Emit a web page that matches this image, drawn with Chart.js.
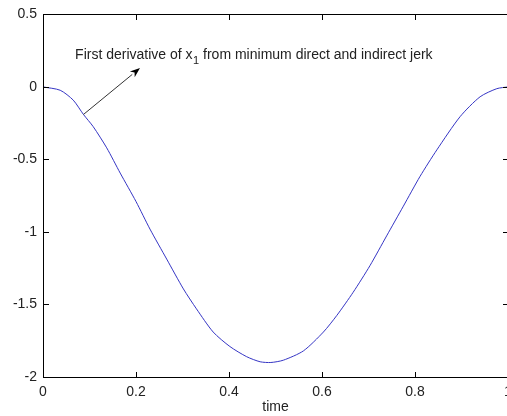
<!DOCTYPE html>
<html>
<head>
<meta charset="utf-8">
<script src="https://cdn.jsdelivr.net/npm/chart.js@4.4.1/dist/chart.umd.min.js"></script>
<style>
  html, body { margin: 0; padding: 0; background: #fff; overflow: hidden; }
  #wrap { width: 520px; height: 416px; position: relative; }
</style>
</head>
<body>
<div id="wrap"><canvas id="c" width="520" height="416"></canvas></div>
<script>
// Data
const timeValues = [0, 0.037, 0.065, 0.087, 0.108, 0.137, 0.166, 0.2, 0.23, 0.266, 0.302, 0.33, 0.366, 0.402, 0.438, 0.467, 0.49, 0.517, 0.56, 0.603, 0.632, 0.667, 0.703, 0.739, 0.775, 0.811, 0.847, 0.897, 0.94, 0.976, 1.0];
const derivValues = [0, -0.023, -0.091, -0.19, -0.274, -0.42, -0.594, -0.79, -0.98, -1.187, -1.393, -1.53, -1.69, -1.79, -1.86, -1.895, -1.9, -1.884, -1.82, -1.69, -1.575, -1.416, -1.233, -1.027, -0.822, -0.616, -0.434, -0.205, -0.068, -0.012, 0];
const xTicks = [0, 0.2, 0.4, 0.6, 0.8, 1];
const yTicks = [-2, -1.5, -1, -0.5, 0, 0.5];
const xTitle = 'time';
const annotationParts = ['First derivative of x', '1', ' from minimum direct and indirect jerk'];

const FONT = '"Liberation Sans", Arial, sans-serif';
const TEXT_COLOR = '#222';

// Box + inward ticks (MATLAB style), drawn as filled 1px rectangles from the scales
const framePlugin = {
  id: 'frame',
  afterDraw(chart) {
    const ctx = chart.ctx, a = chart.chartArea;
    const x = chart.scales.x, y = chart.scales.y;
    const l = Math.round(a.left), t = Math.round(a.top);
    const r = Math.round(a.right), b = Math.round(a.bottom);
    const T = 5;
    ctx.save();
    ctx.globalAlpha = 1;
    ctx.globalCompositeOperation = 'source-over';
    ctx.fillStyle = '#000000';
    ctx.fillRect(l, t, r - l + 1, 1);
    ctx.fillRect(l, b, r - l + 1, 1);
    ctx.fillRect(l, t, 1, b - t + 1);
    ctx.fillRect(r, t, 1, b - t + 1);
    for (const v of xTicks) {
      const px = Math.round(x.getPixelForValue(v));
      ctx.fillRect(px, b - T, 1, T);
      ctx.fillRect(px, t + 1, 1, T);
    }
    for (const v of yTicks) {
      const py = Math.round(y.getPixelForValue(v));
      ctx.fillRect(l + 1, py, T, 1);
      ctx.fillRect(r - T, py, T, 1);
    }
    ctx.restore();
  }
};

// Text annotation with arrow, anchored in data coordinates
const annotationPlugin = {
  id: 'annot',
  afterDatasetsDraw(chart) {
    const ctx = chart.ctx;
    const x = chart.scales.x, y = chart.scales.y;
    const textAt = {t: 0.069, v: 0.221};
    const tail = {t: 0.087, v: -0.19};
    const head = {t: 0.2086, v: 0.130};
    ctx.save();
    const tx = x.getPixelForValue(textAt.t);
    const ty = y.getPixelForValue(textAt.v);
    ctx.fillStyle = TEXT_COLOR;
    ctx.textBaseline = 'middle';
    ctx.textAlign = 'left';
    ctx.font = '14px ' + FONT;
    let cx = tx;
    ctx.fillText(annotationParts[0], cx, ty);
    cx += ctx.measureText(annotationParts[0]).width;
    ctx.font = '11px ' + FONT;
    ctx.fillText(annotationParts[1], cx + 0.5, ty + 6);
    cx += ctx.measureText(annotationParts[1]).width + 0.5;
    ctx.font = '14px ' + FONT;
    ctx.fillText(annotationParts[2], cx, ty);

    const x1 = x.getPixelForValue(tail.t), y1 = y.getPixelForValue(tail.v);
    const x2 = x.getPixelForValue(head.t), y2 = y.getPixelForValue(head.v);
    const ang = Math.atan2(y2 - y1, x2 - x1);
    const hl = 10, hw = 3.8;
    const bx = x2 - hl * Math.cos(ang), by = y2 - hl * Math.sin(ang);
    ctx.strokeStyle = '#333333';
    ctx.lineWidth = 1;
    ctx.beginPath();
    ctx.moveTo(x1, y1);
    ctx.lineTo(bx, by);
    ctx.stroke();
    ctx.fillStyle = '#000000';
    ctx.beginPath();
    ctx.moveTo(x2, y2);
    ctx.lineTo(bx + hw * Math.sin(ang), by - hw * Math.cos(ang));
    ctx.lineTo(x2 - 0.7 * hl * Math.cos(ang), y2 - 0.7 * hl * Math.sin(ang));
    ctx.lineTo(bx - hw * Math.sin(ang), by + hw * Math.cos(ang));
    ctx.closePath();
    ctx.fill();
    ctx.restore();
  }
};

new Chart(document.getElementById('c'), {
  type: 'scatter',
  data: {
    datasets: [{
      data: timeValues.map((t, i) => ({x: t, y: derivValues[i]})),
      showLine: true,
      borderColor: '#3535c4',
      borderWidth: 1,
      pointRadius: 0,
      tension: 0.25
    }]
  },
  options: {
    responsive: false,
    animation: false,
    events: [],
    layout: {padding: {left: 0, right: 12, top: 11, bottom: 0}},
    plugins: {legend: {display: false}, tooltip: {enabled: false}},
    scales: {
      x: {
        type: 'linear',
        min: 0, max: 1,
        afterBuildTicks: s => { s.ticks = xTicks.map(v => ({value: v})); },
        afterFit: s => { s.height = 39; },
        grid: {display: false, drawTicks: false},
        border: {display: true, color: '#000', width: 1},
        ticks: {
          padding: 7,
          color: TEXT_COLOR,
          font: {family: FONT, size: 14},
          maxRotation: 0,
          autoSkip: false,
          callback: v => String(v)
        },
        title: {display: true, text: xTitle, color: TEXT_COLOR, font: {family: FONT, size: 14}, padding: {top: 0, bottom: 0}}
      },
      y: {
        type: 'linear',
        min: -2, max: 0.5,
        afterBuildTicks: s => { s.ticks = yTicks.map(v => ({value: v})); },
        afterFit: s => { s.width = 43; },
        grid: {display: false, drawTicks: false},
        border: {display: true, color: '#000', width: 1},
        ticks: {
          padding: 6,
          color: TEXT_COLOR,
          font: {family: FONT, size: 14},
          autoSkip: false,
          callback: v => String(v)
        }
      }
    }
  },
  plugins: [annotationPlugin, framePlugin]
});
</script>
</body>
</html>
